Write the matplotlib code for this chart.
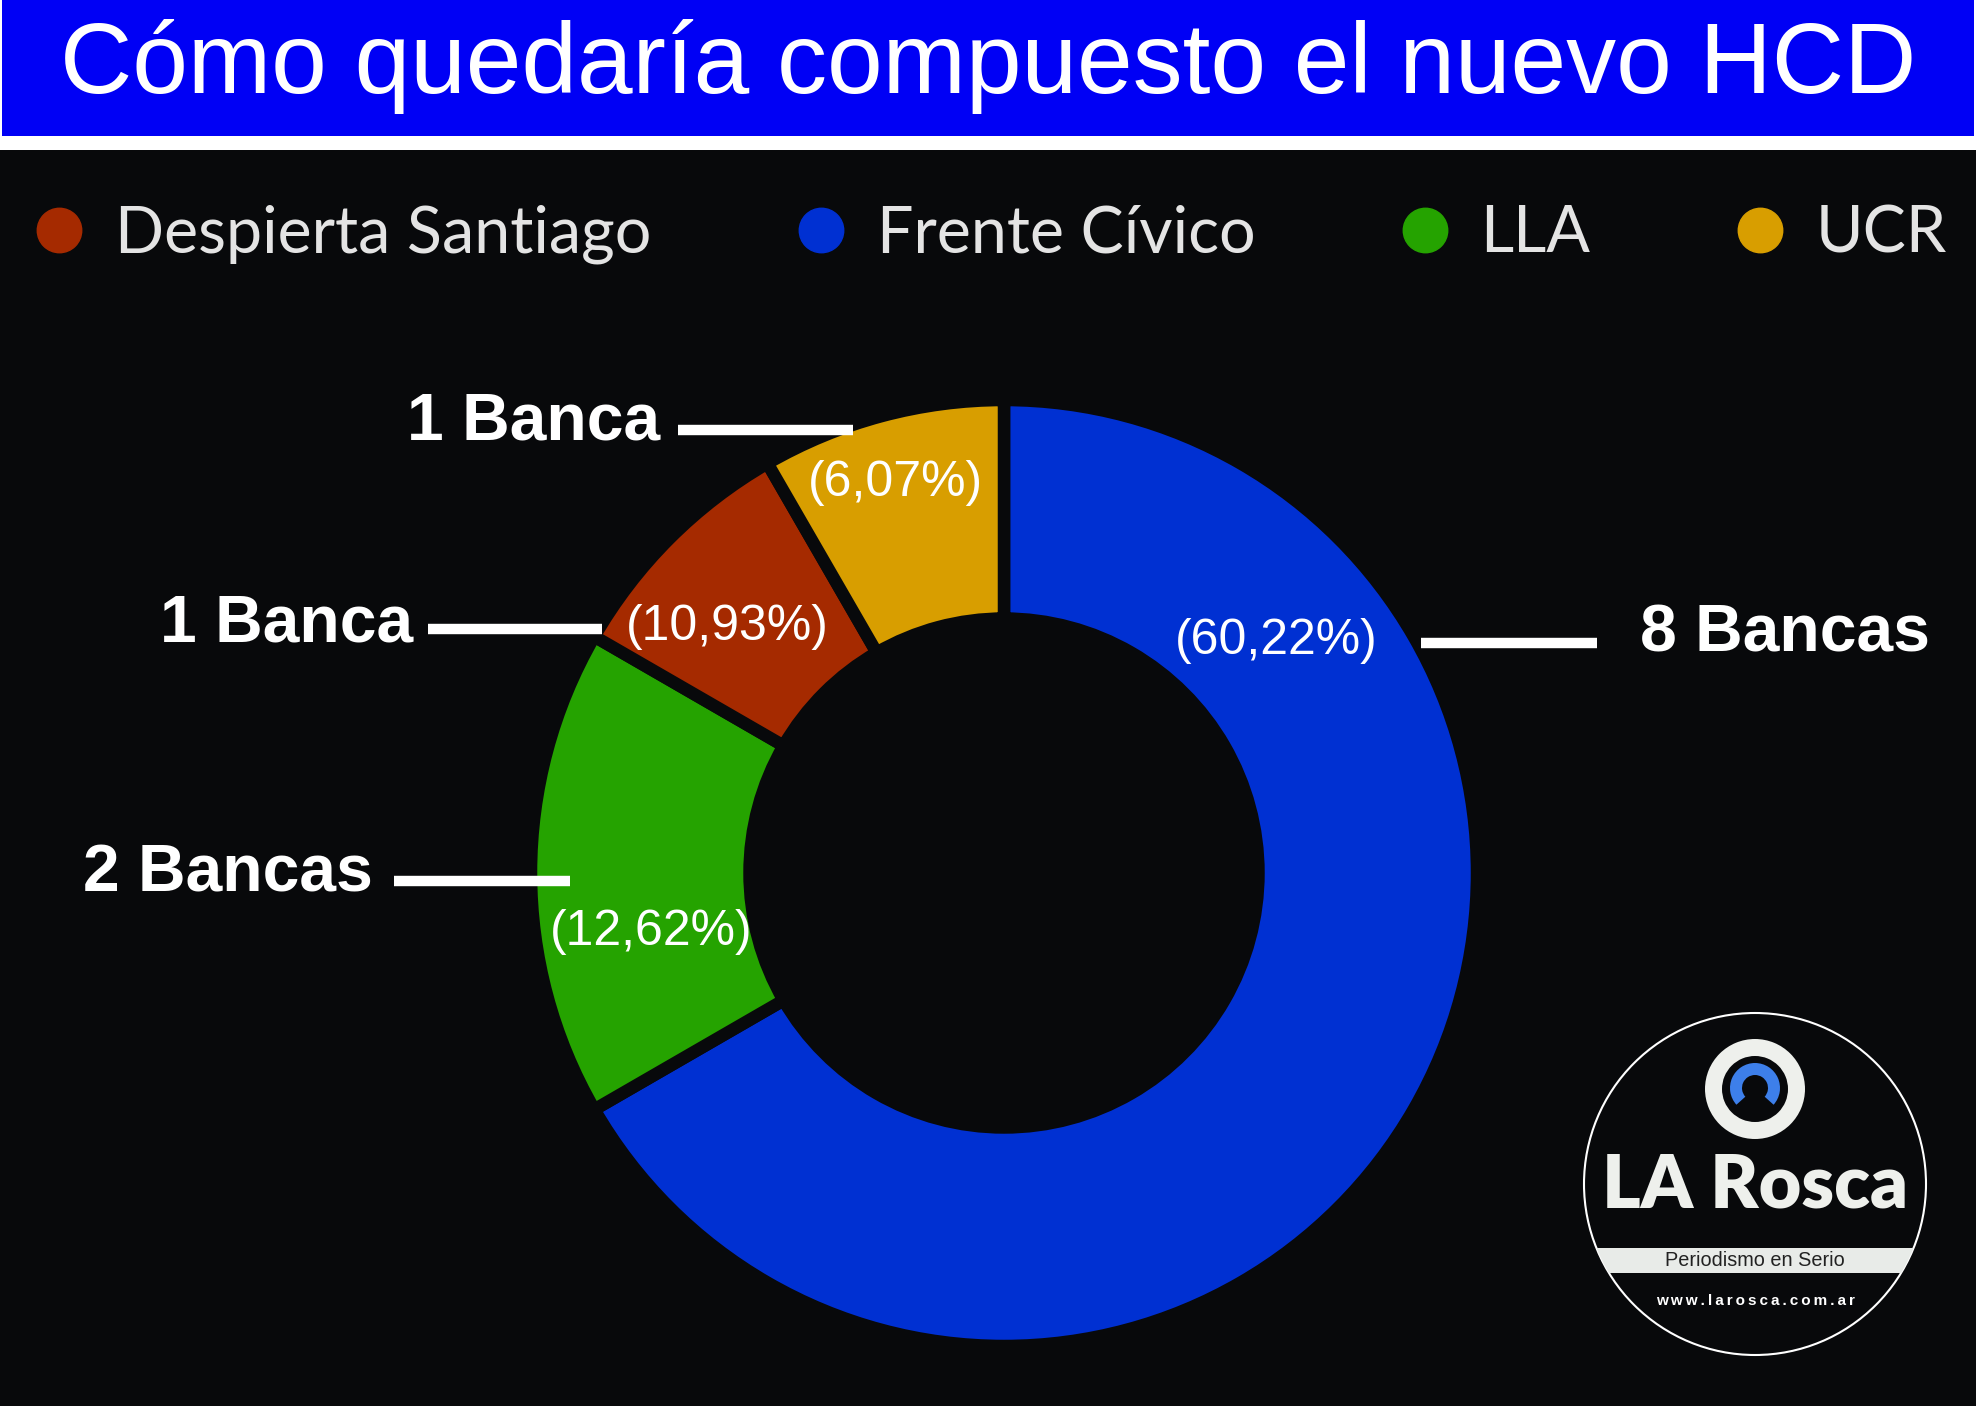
import matplotlib
matplotlib.use('Agg')
import matplotlib.pyplot as plt
from matplotlib.lines import Line2D
from matplotlib.patches import Rectangle, Circle, Wedge

# Data (the ring is sized by seats, labels show vote share)
partidos = ['Frente Cívico', 'LLA', 'Despierta Santiago', 'UCR']
porcentajes = [60.22, 12.62, 10.93, 6.07]
bancas = [8, 2, 1, 1]
colores = ['#0030d2', '#25a300', '#a52a00', '#d89e00']
legend_order = ['Despierta Santiago', 'Frente Cívico', 'LLA', 'UCR']

titulo = 'Cómo quedaría compuesto el nuevo HCD'

BG = '#08090b'
W, H = 1976, 1406

fig = plt.figure(figsize=(W / 100, H / 100), dpi=100)
fig.patch.set_facecolor(BG)

# overlay axes in pixel coordinates (y down), drawn above the donut
ov = fig.add_axes([0, 0, 1, 1])
ov.set_xlim(0, W)
ov.set_ylim(H, 0)
ov.axis('off')
ov.set_zorder(2)

# header bar
ov.add_patch(Rectangle((0, 0), W, 150, facecolor='white', edgecolor='none'))
ov.add_patch(Rectangle((2, 0), W - 4, 136, facecolor='#0000f5', edgecolor='none'))
ov.text(W / 2, 66, titulo, ha='center', va='center', color='white',
        fontsize=72, family='Liberation Sans')

# legend
handles = []
for name in legend_order:
    c = colores[partidos.index(name)]
    handles.append(Line2D([], [], linestyle='none', marker='o', markersize=32,
                          markerfacecolor=c, markeredgecolor=c, label=name))
leg = fig.legend(handles=handles, loc='center left', bbox_to_anchor=(27 / W, 1 - 234 / H),
                 ncol=4, frameon=False, handlelength=1.0,
                 handletextpad=0.36, columnspacing=2.13, borderpad=0, borderaxespad=0,
                 prop={'family': 'Lato', 'size': 46.5})
for t in leg.get_texts():
    t.set_color('#e4e4e4')

# donut
cx, cy, R = 1004, 873, 473
ax = fig.add_axes([(cx - R) / W, (H - cy - R) / H, 2 * R / W, 2 * R / H])
ax.set_zorder(1)
ax.set_facecolor('none')
ax.pie(bancas, colors=colores, startangle=90, counterclock=False, radius=1,
       wedgeprops=dict(width=0.462, edgecolor=BG, linewidth=9))
ax.set_xlim(-1, 1)
ax.set_ylim(-1, 1)
ax.axis('off')

# percentage label positions (donut data units)
pct_pos = [(0.575, 0.490), (-0.746, -0.124), (-0.584, 0.520), (-0.230, 0.825)]
for p, (x, y) in zip(porcentajes, pct_pos):
    ax.text(x, y, f'({p:.2f}%)'.replace('.', ','), ha='center', va='center',
            color='white', fontsize=36, family='Liberation Sans')

# "Bancas" callouts: (text x, text y, align, line x0, line x1, line y)
callouts = [(1640, 635, 'left', 1421, 1597, 643),
            (373, 875, 'right', 394, 570, 881),
            (413, 624, 'right', 428, 602, 629),
            (660, 423, 'right', 678, 853, 430)]
for n, (tx, ty, ha, x0, x1, ly) in zip(bancas, callouts):
    txt = f'{n} Banca' + ('s' if n > 1 else '')
    ov.text(tx, ty, txt, ha=ha, va='center', color='white', fontsize=47.5,
            fontweight='bold', family='Liberation Sans', zorder=5)
    ov.plot([x0, x1], [ly, ly], color='white', linewidth=7.5, solid_capstyle='butt', zorder=5)

# logo
lx, ly0, lr = 1755, 1184, 171
badge = Circle((lx, ly0), lr, facecolor=BG, edgecolor='white', linewidth=1.5, zorder=6)
ov.add_patch(badge)
ov.add_patch(Wedge((lx, 1089), 50, 0, 360, width=17, facecolor='#eef0ec',
                   edgecolor='none', zorder=7))
ov.add_patch(Wedge((lx, 1088), 25, -222, 42, width=12, facecolor='#3d7fea',
                   edgecolor='none', zorder=7))
ov.text(lx, 1186, 'LA Rosca', ha='center', va='center', color='#eef0ec',
        fontsize=53, fontweight='heavy', family='Lato', zorder=7)
band = Rectangle((lx - lr, 1248), 2 * lr, 25, facecolor='#e8ebe8', edgecolor='none', zorder=7)
ov.add_patch(band)
band.set_clip_path(badge)
ov.text(lx, 1261, 'Periodismo en Serio', ha='center', va='center', color='#222222',
        fontsize=14.3, family='Liberation Sans', zorder=8)
ov.text(lx, 1301, 'w w w . l a r o s c a . c o m . a r'.replace(' ', '\u2009'),
        ha='center', va='center', color='white', fontsize=11, fontweight='bold',
        family='Liberation Sans', zorder=8)

fig.savefig('out.png', dpi=100, facecolor=BG)
